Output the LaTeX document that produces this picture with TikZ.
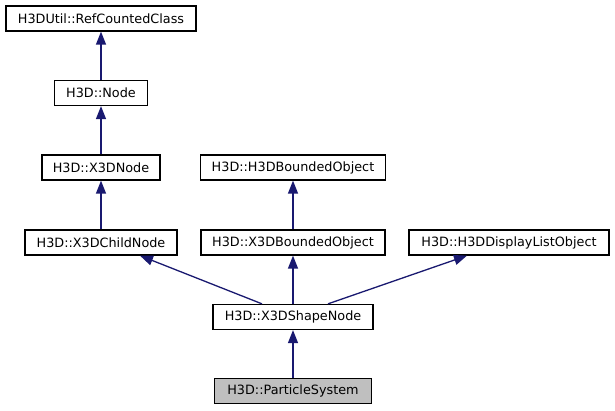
\documentclass[tikz,border=0pt]{standalone}
\usepackage{fontspec}
\setmainfont{DejaVu Sans}
\usetikzlibrary{positioning}
\usetikzlibrary{arrows.meta}
\usepackage{xcolor}
\definecolor{edgeblue}{HTML}{191970}
\definecolor{boxgray}{HTML}{BFBFBF}

\begin{document}
\begin{tikzpicture}[x=1pt, y=-1pt,
box/.style={draw=black, line width=1.3pt, minimum height=25pt, inner sep=0pt, font=\fontsize{12.8}{15}\selectfont},
inherit/.style={edgeblue, line width=1.3pt, -{Triangle[length=13pt,width=10pt]}}]

\useasboundingbox[fill=white] (0,0) rectangle (615,411);

%class boxes%
%left column
\node[box, minimum width=190pt] (refcounted) at (101,18.5) {H3DUtil::RefCountedClass};
\node[box, minimum width=93pt] (node) at (101,93) {H3D::Node};
\node[box, minimum width=118pt] (x3dnode) at (101,167.5) {H3D::X3DNode};
\node[box, minimum width=152pt] (x3dchild) at (101,242.5) {H3D::X3DChildNode};
%middle column
\node[box, minimum width=185pt] (h3dbounded) at (293,167.5) {H3D::H3DBoundedObject};
\node[box, minimum width=184pt] (x3dbounded) at (293,242.5) {H3D::X3DBoundedObject};
\node[box, minimum width=160pt] (shape) at (293,317) {H3D::X3DShapeNode};
\node[box, minimum width=157pt, fill=boxgray] (particle) at (293,391) {H3D::ParticleSystem};
%right column
\node[box, minimum width=200pt] (display) at (509,242.5) {H3D::H3DDisplayListObject};

%inheritance arrows%
\foreach \a/\b in {node/refcounted, x3dnode/node, x3dchild/x3dnode, x3dbounded/h3dbounded, shape/x3dbounded, particle/shape} \draw[inherit] (\a.north) -- (\b.south);

\draw[inherit] ([xshift=-31pt]shape.north) -- ([xshift=39pt]x3dchild.south);
\draw[inherit] ([xshift=35pt]shape.north) -- ([xshift=-42pt]display.south);

\end{tikzpicture}
\end{document}
